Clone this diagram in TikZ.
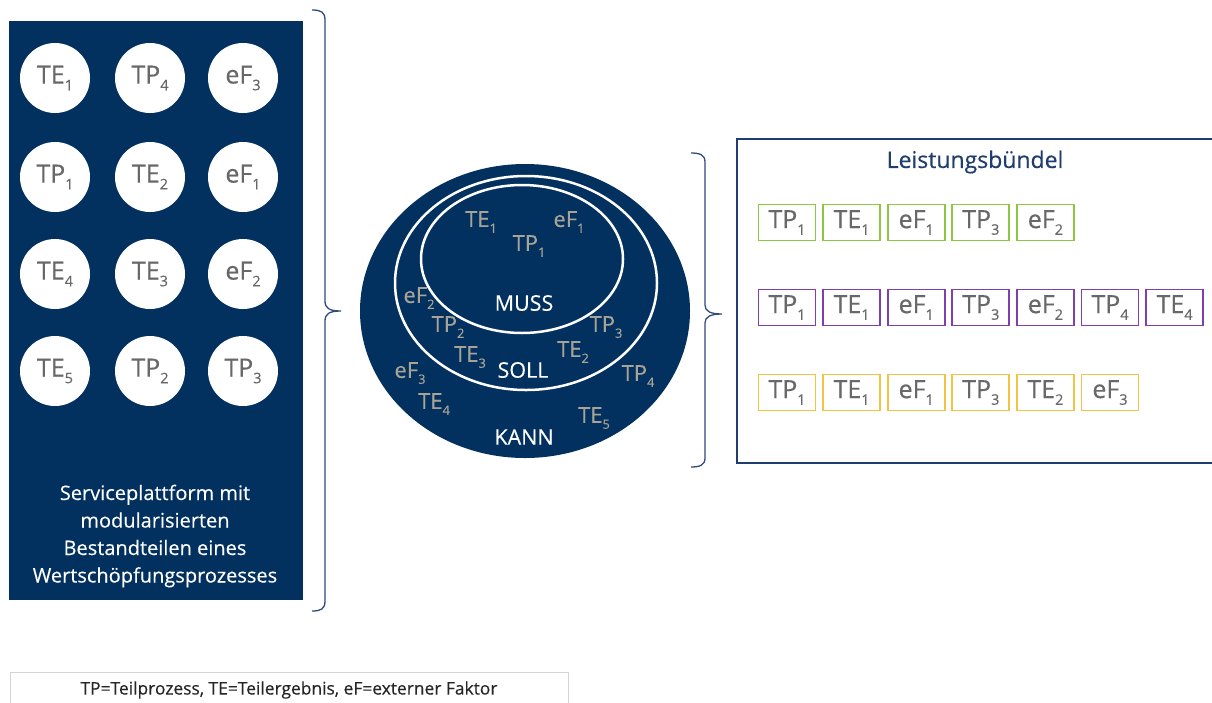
\documentclass[tikz,border=0pt]{standalone}
\usepackage{fontspec}
\setmainfont{Open Sans}[FakeBold=0.3]
\usetikzlibrary{shapes.geometric}
\definecolor{navy}{HTML}{02305F}
\definecolor{bracecol}{HTML}{2F4A7C}
\definecolor{boxblue}{HTML}{1F3D6E}
\definecolor{chiptext}{HTML}{686868}
\definecolor{ringtext}{HTML}{A7A396}
\definecolor{bgreen}{HTML}{8DC63F}
\definecolor{bpurple}{HTML}{7F3FAE}
\definecolor{byellow}{HTML}{F3C443}
\definecolor{legendline}{HTML}{D4D4D4}
\newcommand{\lsub}[1]{\raisebox{-0.5ex}{\scalebox{0.58}{#1}}}
\tikzset{
  panel/.style={rectangle, fill=navy, inner sep=0, minimum width=294, minimum height=579},
  chip/.style={circle, fill=white, inner sep=0, minimum size=70, text=chiptext, font=\fontsize{25}{28}\selectfont},
  ring/.style={ellipse, draw=white, line width=2.5pt, inner sep=0},
  rlabel/.style={text=ringtext, font=\fontsize{22}{25}\selectfont, inner sep=0},
  wlabel/.style={text=white, font=\fontsize{21.5}{25}\selectfont, inner sep=0},
  brace/.style={draw=bracecol, line width=1.3pt},
  bbox/.style={rectangle, draw=#1, line width=1.8pt, minimum width=57, minimum height=36, inner sep=0, text=chiptext, font=\fontsize{25}{28}\selectfont},
}
\begin{document}
\begin{tikzpicture}[x=1pt,y=-1pt]
\useasboundingbox (0,0) rectangle (1212,702);
\fill[white] (0,0) rectangle (1212,702);

% left panel
\node[panel] (panel) at (155.5,310.5) {};
\node[chip] (c11) at (55,78) {TE\lsub{1}};
\node[chip] (c12) at (150,78) {TP\lsub{4}};
\node[chip] (c13) at (243,78) {eF\lsub{3}};
\node[chip] (c21) at (55,177) {TP\lsub{1}};
\node[chip] (c22) at (150,177) {TE\lsub{2}};
\node[chip] (c23) at (243,177) {eF\lsub{1}};
\node[chip] (c31) at (55,274) {TE\lsub{4}};
\node[chip] (c32) at (150,274) {TE\lsub{3}};
\node[chip] (c33) at (243,274) {eF\lsub{2}};
\node[chip] (c41) at (55,371) {TE\lsub{5}};
\node[chip] (c42) at (150,371) {TP\lsub{2}};
\node[chip] (c43) at (243,371) {TP\lsub{3}};
\node[text=white, align=center, font=\fontsize{20}{27.5}\selectfont, inner sep=0] (ptext) at (155,536)
  {Serviceplattform mit\\modularisierten\\Bestandteilen eines\\Wertschöpfungsprozesses};

% brace 1
\coordinate (b1top) at (312,10);
\coordinate (b1tip) at (341,311);
\coordinate (b1bot) at (312,611);
\draw[brace] (b1top) .. controls (321,10) and (325,12) .. (325,20) -- (325,301)
  .. controls (325,308) and (329,311) .. (b1tip)
  (b1tip) .. controls (329,311) and (325,314) .. (325,321) -- (325,601)
  .. controls (325,609) and (321,611) .. (b1bot);

% big circle
\node[ellipse, fill=navy, minimum width=330, minimum height=294, inner sep=0] (kann) at (525,311) {};
\node[ring, minimum width=262, minimum height=214] (soll) at (526,283) {};
\node[ring, minimum width=202, minimum height=148] (muss) at (522,259) {};
\node[rlabel] (m1) at (481,222) {TE\lsub{1}};
\node[rlabel] (m2) at (569,222) {eF\lsub{1}};
\node[rlabel] (m3) at (529,246) {TP\lsub{1}};
\node[wlabel] (mussl) at (524,303) {MUSS};
\node[rlabel] (s1) at (419,298) {eF\lsub{2}};
\node[rlabel] (s2) at (448,327) {TP\lsub{2}};
\node[rlabel] (s3) at (606,327) {TP\lsub{3}};
\node[rlabel] (s4) at (470,357) {TE\lsub{3}};
\node[rlabel] (s5) at (573,352) {TE\lsub{2}};
\node[wlabel] (solll) at (523,370) {SOLL};
\node[rlabel] (k1) at (410,373) {eF\lsub{3}};
\node[rlabel] (k2) at (638,376) {TP\lsub{4}};
\node[rlabel] (k3) at (434,404) {TE\lsub{4}};
\node[rlabel] (k4) at (594,418) {TE\lsub{5}};
\node[wlabel] (kannl) at (524,437) {KANN};

% brace 2
\coordinate (b2top) at (691,153);
\coordinate (b2tip) at (722,314);
\coordinate (b2bot) at (691,467);
\draw[brace] (b2top) .. controls (700,153) and (705,155) .. (705,162) -- (705,305)
  .. controls (705,311) and (710,314) .. (b2tip)
  (b2tip) .. controls (710,314) and (705,317) .. (705,323) -- (705,458)
  .. controls (705,465) and (700,467) .. (b2bot);

% right box
\coordinate (rb1) at (1213,139);
\coordinate (rb2) at (737,139);
\coordinate (rb3) at (737,463);
\coordinate (rb4) at (1213,463);
\draw[draw=boxblue, line width=2.4pt] (rb1) -- (rb2) -- (rb3) -- (rb4);
\node[text=boxblue, font=\fontsize{23}{27}\selectfont, inner sep=0] (title) at (975,162) {Leistungsbündel};

% row 1 green
\node[bbox=bgreen] (g1) at (787.0,222.5) {TP\lsub{1}};
\node[bbox=bgreen] (g2) at (851.6,222.5) {TE\lsub{1}};
\node[bbox=bgreen] (g3) at (916.2,222.5) {eF\lsub{1}};
\node[bbox=bgreen] (g4) at (980.8,222.5) {TP\lsub{3}};
\node[bbox=bgreen] (g5) at (1045.4,222.5) {eF\lsub{2}};
% row 2 purple
\node[bbox=bpurple] (p1) at (787.0,307.5) {TP\lsub{1}};
\node[bbox=bpurple] (p2) at (851.6,307.5) {TE\lsub{1}};
\node[bbox=bpurple] (p3) at (916.2,307.5) {eF\lsub{1}};
\node[bbox=bpurple] (p4) at (980.8,307.5) {TP\lsub{3}};
\node[bbox=bpurple] (p5) at (1045.4,307.5) {eF\lsub{2}};
\node[bbox=bpurple] (p6) at (1110.0,307.5) {TP\lsub{4}};
\node[bbox=bpurple] (p7) at (1174.6,307.5) {TE\lsub{4}};
% row 3 yellow
\node[bbox=byellow] (y1) at (787.0,392.5) {TP\lsub{1}};
\node[bbox=byellow] (y2) at (851.6,392.5) {TE\lsub{1}};
\node[bbox=byellow] (y3) at (916.2,392.5) {eF\lsub{1}};
\node[bbox=byellow] (y4) at (980.8,392.5) {TP\lsub{3}};
\node[bbox=byellow] (y5) at (1045.4,392.5) {TE\lsub{2}};
\node[bbox=byellow] (y6) at (1110.0,392.5) {eF\lsub{3}};

% legend
\node[rectangle, draw=legendline, line width=0.8pt, minimum width=558, minimum height=34, inner sep=0, anchor=north west] (legend) at (10,672) {};
\node[text=black!85, font=\fontsize{17.4}{20}\selectfont, inner sep=0] (legendtext) at (289,690) {TP=Teilprozess, TE=Teilergebnis, eF=externer Faktor};
\end{tikzpicture}
\end{document}
